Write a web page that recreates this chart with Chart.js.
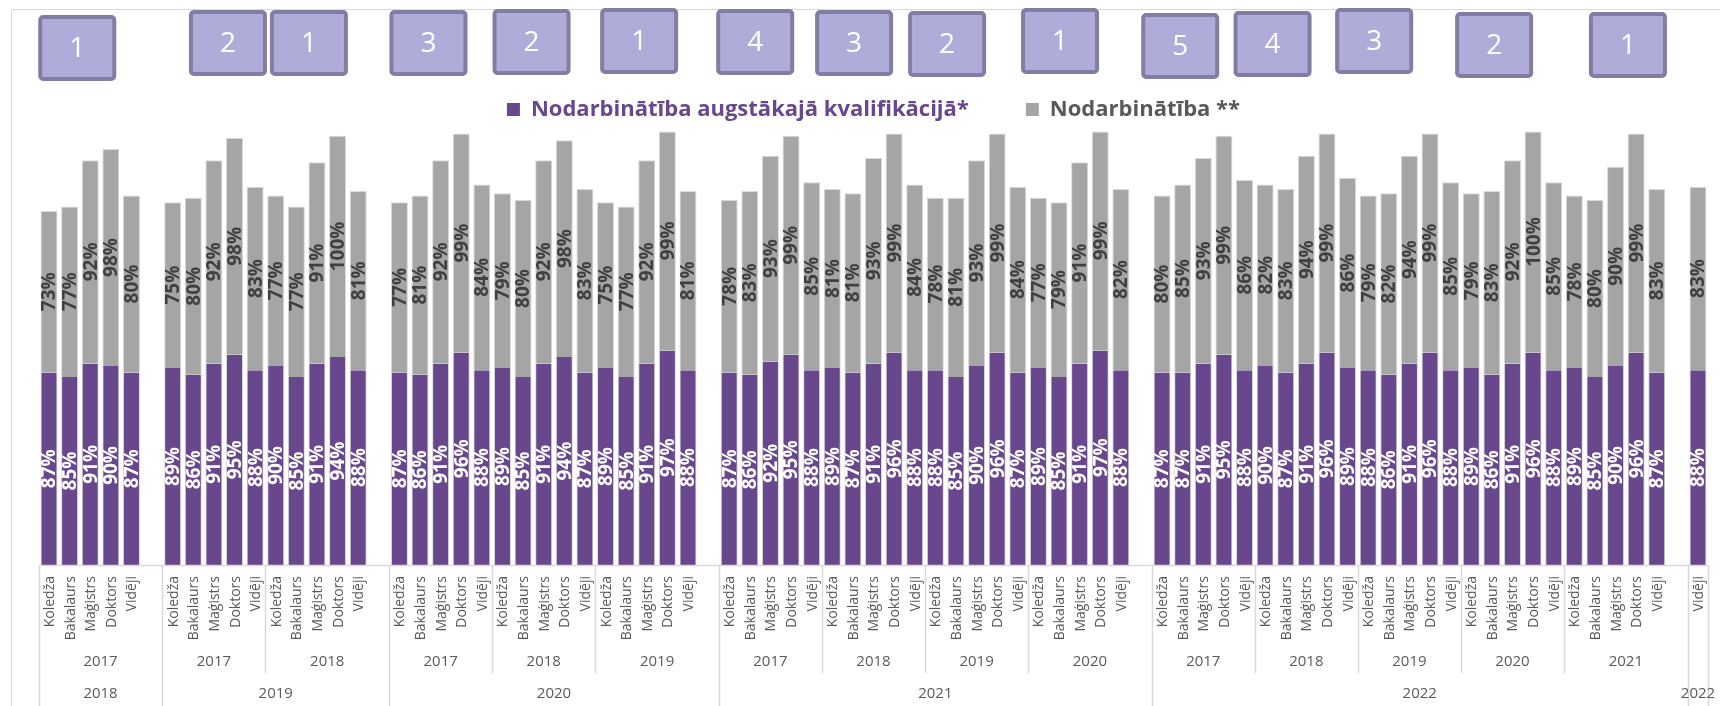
<!DOCTYPE html>
<html>
<head>
<meta charset="utf-8">
<script src="https://cdn.jsdelivr.net/npm/chart.js@4.4.1/dist/chart.umd.min.js"></script>
<style>
html,body{margin:0;padding:0;background:#fff;}
#wrap{width:1720px;height:706px;position:relative;}
</style>
</head>
<body>
<div id="wrap"><canvas id="c" width="1720" height="706"></canvas></div>
<script>
// ---------- DATA ----------
const levelNames = ['Koledža','Bakalaurs','Maģistrs','Doktors','Vidēji'];
const surveyYears = ['2018','2019','2020','2021','2022'];
const cohortYears = [
  ['2017'],
  ['2017','2018'],
  ['2017','2018','2019'],
  ['2017','2018','2019','2020'],
  ['2017','2018','2019','2020','2021']
];
const extraSurveyYear = '2022';
const extraLevel = 'Vidēji';

// Nodarbinātība augstākajā kvalifikācijā* (%)
const hq2018 = [[87,85,91,90,87]];
const hq2019 = [[89,86,91,95,88],[90,85,91,94,88]];
const hq2020 = [[87,86,91,96,88],[89,85,91,94,87],[89,85,91,97,88]];
const hq2021 = [[87,86,92,95,88],[89,87,91,96,88],[88,85,90,96,87],[89,85,91,97,88]];
const hq2022 = [[87,87,91,95,88],[90,87,91,96,89],[88,86,91,96,88],[89,86,91,96,88],[89,85,90,96,87]];
const hq2022avg = [88];

// Nodarbinātība ** (%)
const em2018 = [[73,77,92,98,80]];
const em2019 = [[75,80,92,98,83],[77,77,91,100,81]];
const em2020 = [[77,81,92,99,84],[79,80,92,98,83],[75,77,92,99,81]];
const em2021 = [[78,83,93,99,85],[81,81,93,99,84],[78,81,93,99,84],[77,79,91,99,82]];
const em2022 = [[80,85,93,99,86],[82,83,94,99,86],[79,82,94,99,85],[79,83,92,100,85],[78,80,90,99,83]];
const em2022avg = [83];

const hqBySurvey = [hq2018, hq2019, hq2020, hq2021, hq2022];
const emBySurvey = [em2018, em2019, em2020, em2021, em2022];

// ---------- LAYOUT / STYLE ----------
const PURPLE = '#68478D', GRAY = '#A5A5A5', LINE = '#D9D9D9', TXT = '#595959';
const FONT = '"Open Sans", sans-serif';
// hand-placed badge annotations: shift (in category widths) from cohort centre, and top y
const badgeShift = [-0.63,0.68,-0.39,-0.59,-0.59,-0.37,-0.74,-0.94,-1.43,-0.95,-1.12,-1.64,-1.71,-0.89,0.6];
const badgeTop = [15,10,10,10,9,8,9,10,11,8,13,11,8,12,12];

// ---------- BUILD CATEGORY TABLE ----------
const labels = [], hq = [], em = [], subs = [], groups = [];
surveyYears.forEach((sy, g) => {
  const gStart = labels.length;
  cohortYears[g].forEach((cy, c) => {
    const sStart = labels.length;
    levelNames.forEach((ln, k) => {
      labels.push(ln);
      hq.push(hqBySurvey[g][c][k]);
      em.push(emBySurvey[g][c][k]);
    });
    if (c === cohortYears[g].length - 1) { labels.push(''); hq.push(null); em.push(null); }
    subs.push({start: sStart, end: labels.length - 1, label: cy, badge: (+sy) - (+cy), first: sStart});
  });
  groups.push({start: gStart, end: labels.length - 1, label: sy});
});
{
  const s = labels.length;
  labels.push(extraLevel); hq.push(hq2022avg[0]); em.push(em2022avg[0]);
  subs.push({start: s, end: s, label: '', badge: null, first: s});
  groups.push({start: s, end: s, label: extraSurveyYear});
}

// ---------- PLUGINS ----------
const dataLabels = {
  id: 'dataLabels',
  afterDatasetsDraw(chart) {
    const ctx = chart.ctx;
    chart.data.datasets.forEach((ds, di) => {
      const meta = chart.getDatasetMeta(di);
      meta.data.forEach((el, i) => {
        const v = ds.data[i];
        if (v == null) return;
        const p = el.getProps(['x','y','base'], true);
        const cy = (p.y + p.base) / 2;
        ctx.save();
        ctx.translate(p.x, cy);
        ctx.rotate(-Math.PI / 2);
        ctx.font = 'bold 19px ' + FONT;
        ctx.fillStyle = di === 0 ? '#FFFFFF' : '#404040';
        ctx.textAlign = 'center';
        ctx.textBaseline = 'middle';
        ctx.fillText(v + '%', 0, 1);
        ctx.restore();
      });
    });
  }
};

const multiAxis = {
  id: 'multiAxis',
  afterDraw(chart) {
    const ctx = chart.ctx, xs = chart.scales.x, ca = chart.chartArea;
    const w = xs.getPixelForValue(1) - xs.getPixelForValue(0);
    const edge = i => xs.getPixelForValue(i) - w / 2;
    const B = ca.bottom, H = chart.height;
    ctx.save();
    // outer frame
    ctx.strokeStyle = LINE; ctx.lineWidth = 1;
    ctx.beginPath(); ctx.moveTo(11.5, H); ctx.lineTo(11.5, 9.5); ctx.lineTo(chart.width, 9.5); ctx.stroke();
    // axis line
    ctx.lineWidth = 1.5;
    ctx.beginPath(); ctx.moveTo(edge(0), B + 0.5); ctx.lineTo(edge(labels.length), B + 0.5); ctx.stroke();
    // subgroup separators
    const groupStarts = new Set(groups.map(g => g.start));
    subs.forEach(s => {
      if (groupStarts.has(s.start)) return;
      const x = Math.round(edge(s.start)) + 0.5;
      ctx.beginPath(); ctx.moveTo(x, B); ctx.lineTo(x, B + 108); ctx.stroke();
    });
    // group separators
    groups.forEach(g => {
      const x = Math.round(edge(g.start)) + 0.5;
      ctx.beginPath(); ctx.moveTo(x, B); ctx.lineTo(x, H); ctx.stroke();
    });
    { const x = Math.round(edge(labels.length)) + 0.5;
      ctx.beginPath(); ctx.moveTo(x, B); ctx.lineTo(x, H); ctx.stroke(); }
    // level 1 labels
    ctx.fillStyle = TXT;
    ctx.font = '14px ' + FONT;
    ctx.textAlign = 'right'; ctx.textBaseline = 'middle';
    labels.forEach((t, i) => {
      if (!t) return;
      ctx.save();
      ctx.translate(xs.getPixelForValue(i) + 1, B + 11);
      ctx.rotate(-Math.PI / 2);
      ctx.fillText(t, 0, 0);
      ctx.restore();
    });
    // level 2 labels
    ctx.textAlign = 'center';
    ctx.font = '15px ' + FONT;
    subs.forEach(s => {
      if (!s.label) return;
      const x = (edge(s.start) + edge(s.end + 1)) / 2;
      ctx.fillText(s.label, x, B + 97);
    });
    // level 3 labels
    groups.forEach(g => {
      const x = (edge(g.start) + edge(g.end + 1)) / 2;
      ctx.fillText(g.label, x, B + 129);
    });
    // badges
    let bi = 0;
    subs.forEach(s => {
      if (s.badge == null) return;
      const cx = xs.getPixelForValue(s.first + 2 + badgeShift[bi]);
      const top = badgeTop[bi];
      const bw = 78, bh = 66;
      const x0 = cx - bw / 2;
      ctx.fillStyle = '#B0ACDA';
      ctx.strokeStyle = '#827DA3';
      ctx.lineWidth = 4;
      ctx.beginPath();
      if (ctx.roundRect) ctx.roundRect(x0 + 2, top + 2, bw - 4, bh - 4, 3); else ctx.rect(x0 + 2, top + 2, bw - 4, bh - 4);
      ctx.fill(); ctx.stroke();
      ctx.fillStyle = '#FFFFFF';
      ctx.font = '28px ' + FONT;
      ctx.textAlign = 'center'; ctx.textBaseline = 'middle';
      ctx.fillText(String(s.badge), cx, top + bh / 2 + 1);
      bi++;
    });
    ctx.restore();
  }
};

// ---------- CHART ----------
new Chart(document.getElementById('c').getContext('2d'), {
  type: 'bar',
  data: {
    labels: labels,
    datasets: [
      {
        label: 'Nodarbinātība augstākajā kvalifikācijā*',
        data: hq,
        backgroundColor: PURPLE,
        borderColor: LINE,
        borderWidth: {left: 1, right: 1, top: 0, bottom: 0},
        borderSkipped: false,
        barPercentage: 0.825,
        categoryPercentage: 1
      },
      {
        label: 'Nodarbinātība **',
        data: em,
        backgroundColor: GRAY,
        borderColor: LINE,
        borderWidth: {left: 1, right: 1, top: 1, bottom: 0},
        borderSkipped: false,
        barPercentage: 0.825,
        categoryPercentage: 1
      }
    ]
  },
  options: {
    responsive: false,
    animation: false,
    devicePixelRatio: 1,
    layout: {padding: {left: 38.7, right: 11.7, top: 41.5, bottom: 141}},
    scales: {
      x: {stacked: true, display: false},
      y: {stacked: true, display: false, min: 0, max: 196.4}
    },
    plugins: {
      tooltip: {enabled: false},
      legend: {
        position: 'top',
        align: 'center',
        labels: {
          boxWidth: 13,
          boxHeight: 13,
          padding: 57,
          font: {family: FONT, size: 22, weight: 'bold'},
          generateLabels(chart) {
            const items = Chart.defaults.plugins.legend.labels.generateLabels(chart);
            items.forEach((it, i) => {
              it.fontColor = i === 0 ? PURPLE : TXT;
              it.lineWidth = 0;
              it.strokeStyle = 'rgba(0,0,0,0)';
            });
            return items;
          }
        }
      }
    }
  },
  plugins: [dataLabels, multiAxis]
});
</script>
</body>
</html>
